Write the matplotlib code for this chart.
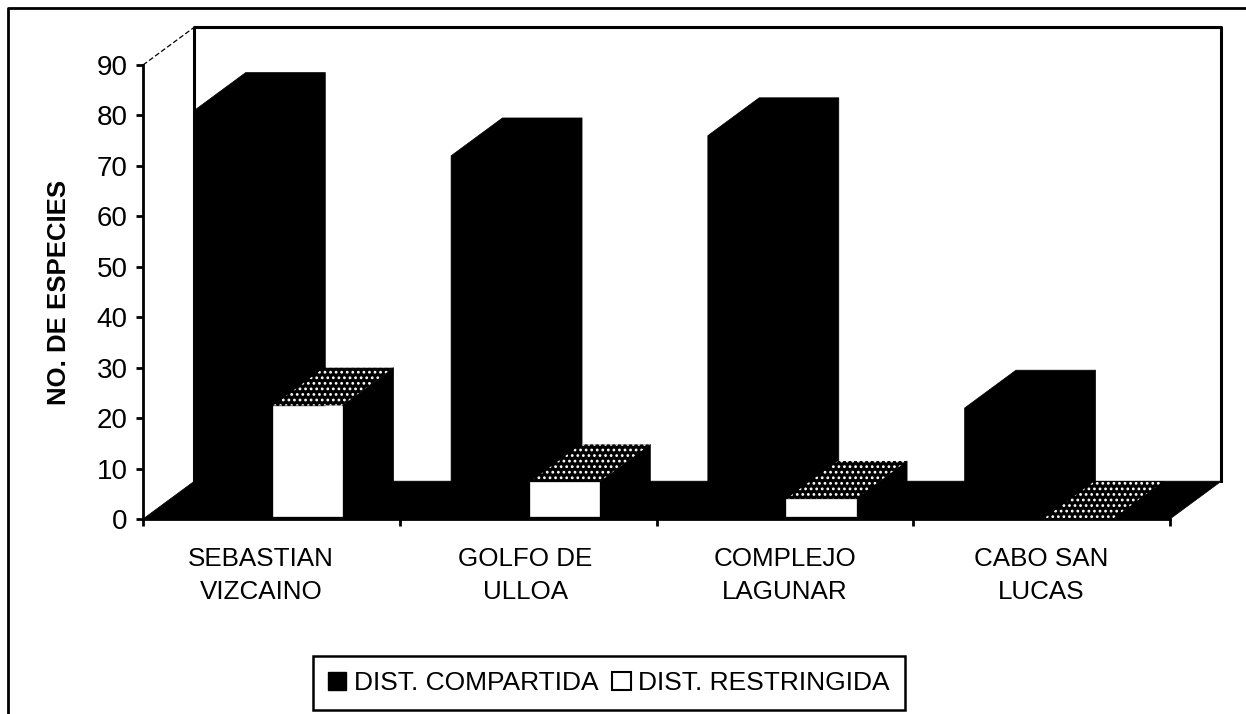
import matplotlib
matplotlib.use("Agg")
import matplotlib.pyplot as plt
from matplotlib.lines import Line2D
from matplotlib.patches import Patch, Polygon

plt.rcParams["font.family"] = ["Liberation Sans", "DejaVu Sans"]
plt.rcParams["hatch.linewidth"] = 1.2

categories = ["SEBASTIAN\nVIZCAINO", "GOLFO DE\nULLOA", "COMPLEJO\nLAGUNAR", "CABO SAN\nLUCAS"]
compartida = [81, 72, 76, 22]
restringida = [22.5, 7.3, 4, 0]
y_ticks = [0, 10, 20, 30, 40, 50, 60, 70, 80, 90]

# profundidad del efecto 3D, en unidades de los ejes
dx = 0.2
dy = 7.5
left_black, width_black = 0.2, 0.31
left_white, width_white = 0.506, 0.27
label_pos = [0.46, 1.49, 2.5, 3.5]


def poly(ax, pts, color, **kw):
    ax.add_patch(Polygon(pts, closed=True, facecolor=color, edgecolor=kw.pop("edgecolor", color),
                         lw=kw.pop("lw", 0.5), clip_on=False, **kw))


fig = plt.figure(figsize=(12.46, 7.14), dpi=100)
ax = fig.add_axes([143 / 1246, 1 - 519 / 714, 1027 / 1246, 454 / 714])
ax.set_xlim(0, 4)
ax.set_ylim(0, 90)

# suelo y paredes
poly(ax, [(0, 0), (4, 0), (4 + dx, dy), (dx, dy)], "black")
ax.plot([dx, dx, 4 + dx, 4 + dx], [dy, 90 + dy, 90 + dy, dy], color="black", lw=2.2, clip_on=False)
ax.plot([0, dx], [90, 90 + dy], color="black", lw=0.9, ls=(0, (4, 2)), clip_on=False)

for i in range(len(categories)):
    # barra negra
    x = i + left_black
    h = compartida[i]
    poly(ax, [(x, 0), (x, h), (x + dx, h + dy), (x + width_black + dx, h + dy),
              (x + width_black + dx, dy), (x + width_black, 0)], "black")
    # barra blanca
    x = i + left_white
    h = restringida[i]
    poly(ax, [(x + width_white, 0), (x + width_white, h), (x + width_white + dx, h + dy),
              (x + width_white + dx, dy)], "black")
    poly(ax, [(x, h), (x + width_white, h), (x + width_white + dx, h + dy), (x + dx, h + dy)],
         "black", edgecolor="white", hatch="...", lw=0)
    if h > 0:
        poly(ax, [(x, 0.6), (x, h), (x + width_white, h), (x + width_white, 0.6)], "white")

for s in ["top", "right"]:
    ax.spines[s].set_visible(False)
for s in ["left", "bottom"]:
    ax.spines[s].set_linewidth(2)
ax.patch.set_visible(False)

ax.set_yticks(y_ticks)
ax.set_yticklabels([str(v) for v in y_ticks])
ax.set_xticks(range(5))
ax.set_xticklabels([])
ax.set_xticks(label_pos, categories, minor=True)
ax.tick_params(axis="x", which="major", length=5, width=2)
ax.tick_params(axis="x", which="minor", length=0, pad=20, labelsize=18.7)
ax.tick_params(axis="y", length=5, width=2, pad=6, labelsize=20)
for t in ax.get_xticklabels(minor=True):
    t.set_linespacing(1.5)

fig.text(59 / 1246, 1 - 292 / 714, "NO. DE ESPECIES", rotation=90, fontsize=18.5, fontweight="bold",
         ha="center", va="center")

# leyenda
handles = [Patch(facecolor="black", edgecolor="black"), Patch(facecolor="white", edgecolor="black", lw=1.5)]
leg = fig.legend(handles, ["DIST. COMPARTIDA", "DIST. RESTRINGIDA"], ncol=2, fontsize=19,
                 loc="center", bbox_to_anchor=(609 / 1246, 1 - 683 / 714), fancybox=False, framealpha=1,
                 edgecolor="black", handlelength=0.7, handleheight=0.7, handletextpad=0.3,
                 columnspacing=0.5, borderpad=0.58)
leg.get_frame().set_linewidth(1.8)

# marco exterior
fig.add_artist(Line2D([8 / 1246, 8 / 1246, 1], [0, 1 - 8 / 714, 1 - 8 / 714], color="black", lw=2))

fig.savefig("out.png", dpi=100)
